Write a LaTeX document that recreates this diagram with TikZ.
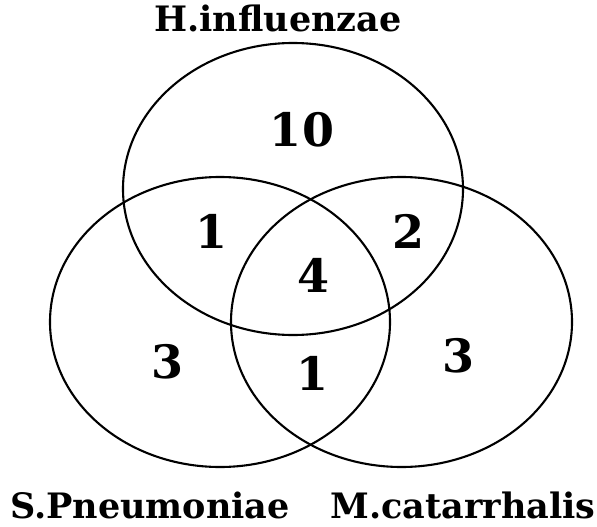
\documentclass[tikz,border=0pt]{standalone}
\usepackage{fontspec}
\setmainfont{DejaVu Serif}
\usetikzlibrary{shapes.geometric}

\begin{document}
\begin{tikzpicture}[x=1pt,y=-1pt,
  setoval/.style={draw,ellipse,line width=2.1pt,inner sep=0pt},
  setname/.style={anchor=base,font=\bfseries\fontsize{35}{40}\selectfont},
  tally/.style={font=\bfseries\fontsize{46}{50}\selectfont}]
  \useasboundingbox (0,0) rectangle (597,527);
  % the three sets
  \node[setoval,minimum width=340pt,minimum height=292pt] (hinf) at (293,189) {};
  \node[setoval,minimum width=340pt,minimum height=290pt] (spne) at (220,322) {};
  \node[setoval,minimum width=341pt,minimum height=290pt] (mcat) at (401.5,322) {};
  % names
  \node[setname] (hinfname) at (278,32) {H.influenzae};
  \node[setname] (spnename) at (150,518) {S.Pneumoniae};
  \node[setname] (mcatname) at (463,518) {M.catarrhalis};
  % counts
  \foreach \reg/\x/\y/\val in {honly/302/130/10,hs/212/231/1,hm/408/231/2,hsm/313/275/4,
    sonly/168/362/3,sm/312/373/1,monly/458/356/3}{\node[tally] (\reg) at (\x,\y) {\val};}
\end{tikzpicture}
\end{document}
